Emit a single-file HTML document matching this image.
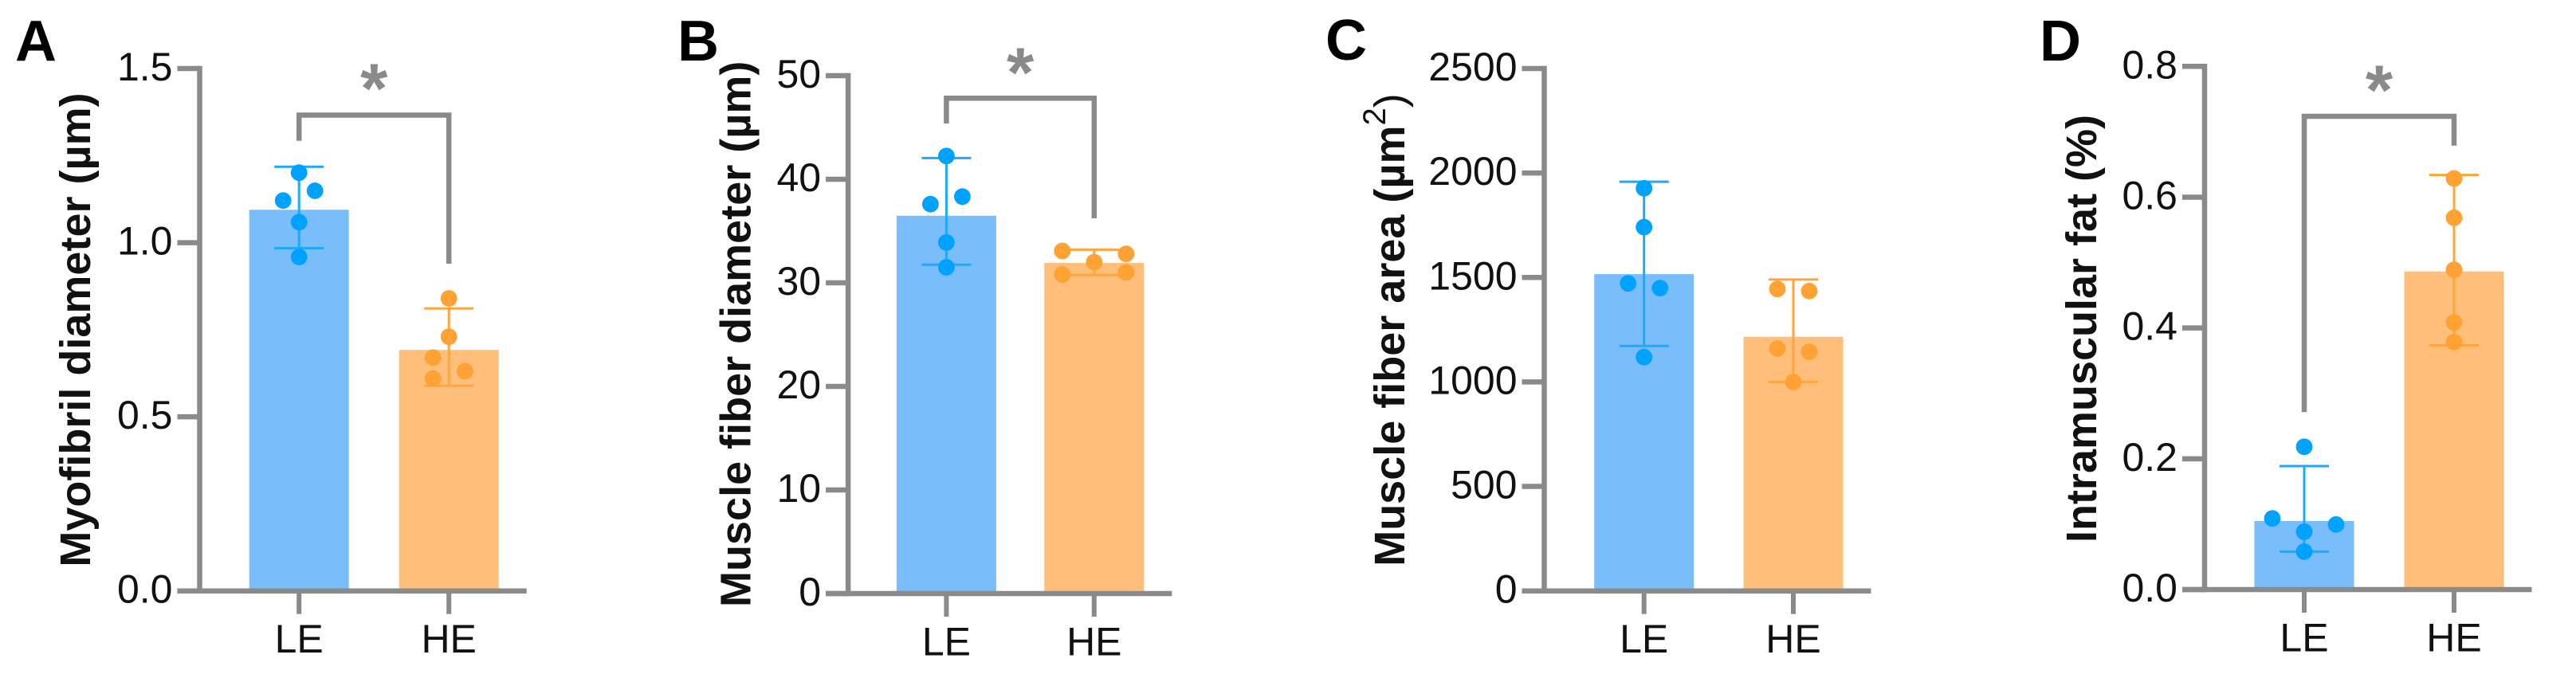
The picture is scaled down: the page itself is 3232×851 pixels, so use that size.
<!DOCTYPE html>
<html lang="en">
<head>
<meta charset="utf-8">
<title>Muscle measurements LE vs HE</title>
<style>
html,body{margin:0;padding:0;background:#fff;}
svg{display:block;}
text{font-family:"Liberation Sans",Arial,sans-serif;fill:#111;}
.tick{font-size:50px;}
.title{font-size:54px;font-weight:bold;}
.letter{font-size:72px;font-weight:bold;fill:#000;}
.star{font-size:88px;font-weight:bold;fill:#8a8a8a;text-anchor:middle;}
</style>
</head>
<body>
<svg id="figure" xmlns="http://www.w3.org/2000/svg" width="3232" height="851" viewBox="0 0 3232 851">
  <rect x="0" y="0" width="3232" height="851" fill="#fff"/>
  <g id="panels"></g>
  <text class="letter" x="19" y="76">A</text>
  <text class="letter" x="850" y="76">B</text>
  <text class="letter" x="1663" y="75">C</text>
  <text class="letter" x="2559" y="76">D</text>
  <text class="title" text-anchor="middle" transform="translate(113,414) rotate(-90)">Myofibril diameter (µm)</text>
  <text class="title" text-anchor="middle" transform="translate(941.7,419.3) rotate(-90)">Muscle fiber diameter (µm)</text>
  <text class="title" text-anchor="middle" transform="translate(1762,414) rotate(-90)">Muscle fiber area (µm<tspan font-size="40" font-weight="normal" dy="-24">2</tspan><tspan font-weight="normal" dy="24">)</tspan></text>
  <text class="title" text-anchor="middle" transform="translate(2630,412.5) rotate(-90)">Intramuscular fat (%)</text>
</svg>
<script>
const categories = ['LE', 'HE'];

const panelATicks = ['0.0', '0.5', '1.0', '1.5'];
const panelAMeans = [1.0945, 0.692];
const panelAErrLow = [0.984, 0.589];
const panelAErrHigh = [1.218, 0.811];
const panelALePoints = [1.201, 1.149, 1.121, 1.059, 0.959];
const panelAHePoints = [0.840, 0.730, 0.670, 0.631, 0.610];
const panelALeSlots = [0, 1, -1, 0, 0];
const panelAHeSlots = [0, 0, -1, 1, -1];

const panelBTicks = ['0', '10', '20', '30', '40', '50'];
const panelBMeans = [36.48, 31.92];
const panelBErrLow = [31.75, 30.77];
const panelBErrHigh = [42.05, 33.2];
const panelBLePoints = [42.25, 38.33, 37.6, 33.9, 31.5];
const panelBHePoints = [33.08, 32.8, 32.0, 30.8, 31.0];
const panelBLeSlots = [0, 1, -1, 0, 0];
const panelBHeSlots = [-2, 2, 0, -2, 2];

const panelCTicks = ['0', '500', '1000', '1500', '2000', '2500'];
const panelCMeans = [1516, 1216];
const panelCErrLow = [1172, 1000];
const panelCErrHigh = [1958, 1490];
const panelCLePoints = [1927, 1741, 1472, 1449, 1119];
const panelCHePoints = [1445, 1435, 1160, 1145, 1000];
const panelCLeSlots = [0, 0, -1, 1, 0];
const panelCHeSlots = [-1, 1, -1, 1, 0];

const panelDTicks = ['0.0', '0.2', '0.4', '0.6', '0.8'];
const panelDMeans = [0.1048, 0.4864];
const panelDErrLow = [0.058, 0.3735];
const panelDErrHigh = [0.1888, 0.634];
const panelDLePoints = [0.2184, 0.1088, 0.0995, 0.0885, 0.058];
const panelDHePoints = [0.6285, 0.5685, 0.489, 0.4085, 0.3785];
const panelDLeSlots = [0, -2, 2, 0, 0];
const panelDHeSlots = [0, 0, 0, 0, 0];

const NS = 'http://www.w3.org/2000/svg';
const GREY = '#8a8a8a';
const BAR_FILL = ['#7abdfb', '#ffbf7b'];
const DOT_FILL = ['#00a2ff', '#ffa233'];
const ERR_STROKE = ['#1fa9fb', '#ffa53c'];
const root = document.getElementById('panels');

function shape(parent, tag, props) {
  const el = document.createElementNS(NS, tag);
  Object.keys(props).forEach(function (k) { el.setAttribute(k, props[k]); });
  parent.appendChild(el);
  return el;
}

function drawPanel(p) {
  const yScale = function (v) { return p.y0 - (v / p.maxValue) * (p.y0 - p.yTop); };
  const xScale = function (i) { return p.cx0 + i * p.step; };
  const tickLeft = p.axisX - 28;
  const barHalf = 62.5;
  const capHalf = 31;
  const slotWidth = 20;
  const dotR = 10.4;
  const axisRight = xScale(1) + barHalf + 35;

  const g = shape(root, 'g', {});
  
  

  categories.forEach(function (cat, i) {
    const bar = shape(g, 'rect', {
      x: xScale(i) - barHalf, y: yScale(p.means[i]),
      width: barHalf * 2, height: p.y0 - yScale(p.means[i]), fill: BAR_FILL[i]
    });
    
    
  });

  const yAxis = shape(g, 'line', {
    x1: p.axisX, x2: p.axisX, y1: p.yTop - 3.25, y2: p.y0 + 3.25,
    stroke: GREY, 'stroke-width': 6.5
  });
  
  

  const xAxis = shape(g, 'line', {
    x1: tickLeft, x2: axisRight, y1: p.y0, y2: p.y0,
    stroke: GREY, 'stroke-width': 6.5
  });
  
  

  p.ticks.forEach(function (label) {
    const v = parseFloat(label);
    const t = shape(g, 'line', {
      x1: tickLeft, x2: p.axisX, y1: yScale(v), y2: yScale(v),
      stroke: GREY, 'stroke-width': 6.5
    });
    
    
    const txt = shape(g, 'text', {
      x: tickLeft - 6, y: yScale(v) + 15, 'text-anchor': 'end', 'class': 'tick'
    });
    txt.textContent = label;
    
    
  });

  categories.forEach(function (cat, i) {
    const t = shape(g, 'line', {
      x1: xScale(i), x2: xScale(i), y1: p.y0, y2: p.y0 + 29,
      stroke: GREY, 'stroke-width': 6
    });
    
    
    const txt = shape(g, 'text', {
      x: xScale(i), y: p.y0 + 77.5, 'text-anchor': 'middle', 'class': 'tick'
    });
    txt.textContent = cat;
    
    
  });

  categories.forEach(function (cat, i) {
    const cx = xScale(i);
    const hi = yScale(p.errHigh[i]);
    const lo = yScale(p.errLow[i]);
    const err = shape(g, 'path', {
      d: 'M' + (cx - capHalf) + ' ' + hi + 'H' + (cx + capHalf) +
         'M' + cx + ' ' + hi + 'V' + lo +
         'M' + (cx - capHalf) + ' ' + lo + 'H' + (cx + capHalf),
      fill: 'none', stroke: ERR_STROKE[i], 'stroke-width': 3
    });
    
    

    const points = i === 0 ? p.lePoints : p.hePoints;
    const slots = i === 0 ? p.leSlots : p.heSlots;
    points.forEach(function (v, j) {
      const dot = shape(g, 'circle', {
        cx: cx + slots[j] * slotWidth, cy: yScale(v), r: dotR, fill: DOT_FILL[i]
      });
      
      
    });
  });

  if (p.bracket) {
    const b = p.bracket;
    const br = shape(g, 'path', {
      d: 'M' + xScale(0) + ' ' + b.leftEnd + 'V' + b.top + 'H' + xScale(1) + 'V' + b.rightEnd,
      fill: 'none', stroke: GREY, 'stroke-width': 6.5, 'stroke-linejoin': 'miter'
    });
    
    
    const star = shape(g, 'text', {
      x: (xScale(0) + xScale(1)) / 2, y: b.starY + 43, 'class': 'star'
    });
    star.textContent = '*';
    
    
  }
}

drawPanel({
  id: 'a', axisX: 250.5, y0: 741.7, yTop: 86, maxValue: 1.5, cx0: 375.2, step: 188,
  ticks: panelATicks, means: panelAMeans, errLow: panelAErrLow, errHigh: panelAErrHigh,
  lePoints: panelALePoints, hePoints: panelAHePoints, leSlots: panelALeSlots, heSlots: panelAHeSlots,
  bracket: { top: 144.5, leftEnd: 176.7, rightEnd: 331, starY: 98 }
});
drawPanel({
  id: 'b', axisX: 1064.1, y0: 745, yTop: 95, maxValue: 50, cx0: 1187.4, step: 185.4,
  ticks: panelBTicks, means: panelBMeans, errLow: panelBErrLow, errHigh: panelBErrHigh,
  lePoints: panelBLePoints, hePoints: panelBHePoints, leSlots: panelBLeSlots, heSlots: panelBHeSlots,
  bracket: { top: 123.3, leftEnd: 155, rightEnd: 274, starY: 78 }
});
drawPanel({
  id: 'c', axisX: 1937.5, y0: 741.7, yTop: 86, maxValue: 2500, cx0: 2062.7, step: 187.3,
  ticks: panelCTicks, means: panelCMeans, errLow: panelCErrLow, errHigh: panelCErrHigh,
  lePoints: panelCLePoints, hePoints: panelCHePoints, leSlots: panelCLeSlots, heSlots: panelCHeSlots,
  bracket: null
});
drawPanel({
  id: 'd', axisX: 2766, y0: 740, yTop: 83.3, maxValue: 0.8, cx0: 2891, step: 188,
  ticks: panelDTicks, means: panelDMeans, errLow: panelDErrLow, errHigh: panelDErrHigh,
  lePoints: panelDLePoints, hePoints: panelDHePoints, leSlots: panelDLeSlots, heSlots: panelDHeSlots,
  bracket: { top: 146, leftEnd: 517.3, rightEnd: 182.7, starY: 100 }
});
</script>
</body>
</html>
